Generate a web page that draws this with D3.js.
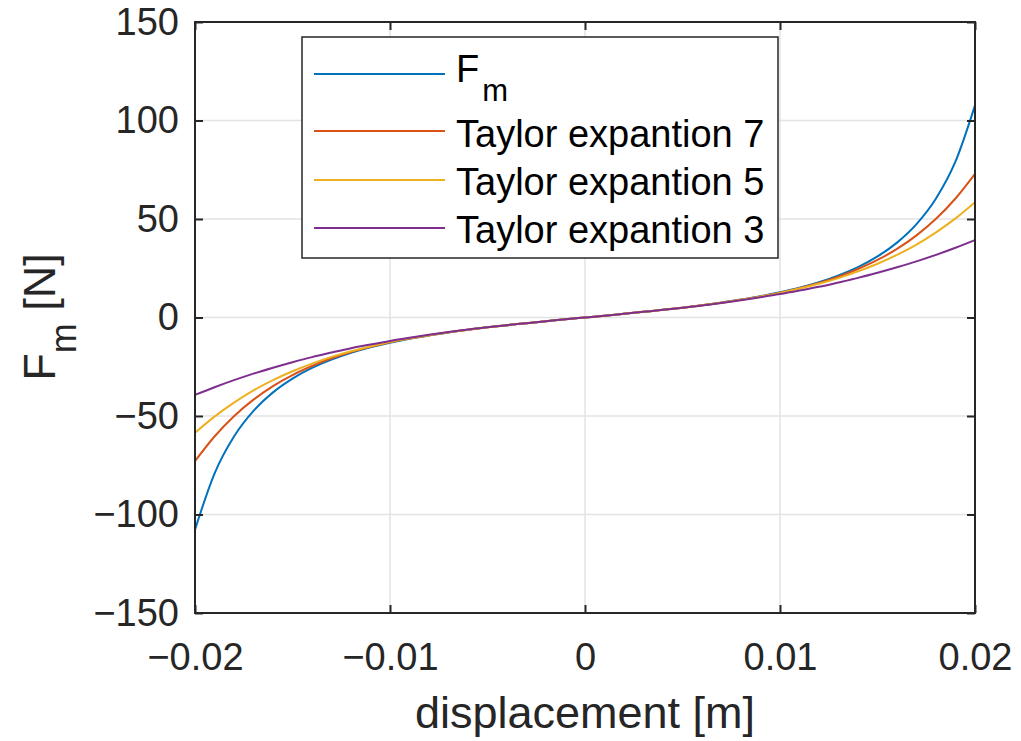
<!DOCTYPE html>
<html>
<head>
<meta charset="utf-8">
<script src="https://cdn.jsdelivr.net/npm/d3@7"></script>
<style>
  html, body { margin: 0; padding: 0; background: #ffffff; }
  svg { display: block; font-family: "Liberation Sans", Arial, Helvetica, sans-serif; }
</style>
</head>
<body>
<svg id="chart" width="1021" height="741"></svg>
<script>
// ---------------- data ----------------
const displacement = [
  -0.020, -0.019, -0.018, -0.017, -0.016, -0.015, -0.014, -0.013, -0.012, -0.011,
  -0.010, -0.009, -0.008, -0.007, -0.006, -0.005, -0.004, -0.003, -0.002, -0.001,
   0.000,
   0.001,  0.002,  0.003,  0.004,  0.005,  0.006,  0.007,  0.008,  0.009,  0.010,
   0.011,  0.012,  0.013,  0.014,  0.015,  0.016,  0.017,  0.018,  0.019,  0.020
];
const forceFm = [
  -107.7, -79.2, -60.4, -47.4, -38.0, -31.0, -25.6, -21.4, -17.9, -15.1,
  -12.8, -10.8, -9.1, -7.6, -6.2, -5.0, -3.9, -2.9, -1.9, -0.9,
  0,
  0.9, 1.9, 2.9, 3.9, 5.0, 6.2, 7.6, 9.1, 10.8, 12.8,
  15.1, 17.9, 21.4, 25.6, 31.0, 38.0, 47.4, 60.4, 79.2, 107.7
];
const taylor7 = [
  -72.9, -60.4, -50.1, -41.7, -34.8, -29.2, -24.6, -20.7, -17.5, -14.9,
  -12.6, -10.7, -9.0, -7.5, -6.2, -5.0, -3.9, -2.9, -1.9, -0.9,
  0,
  0.9, 1.9, 2.9, 3.9, 5.0, 6.2, 7.5, 9.0, 10.7, 12.6,
  14.9, 17.5, 20.7, 24.6, 29.2, 34.8, 41.7, 50.1, 60.4, 72.9
];
const taylor5 = [
  -58.5, -50.3, -43.2, -37.0, -31.8, -27.3, -23.4, -20.0, -17.1, -14.7,
  -12.5, -10.6, -9.0, -7.5, -6.2, -5.0, -3.9, -2.9, -1.9, -0.9,
  0,
  0.9, 1.9, 2.9, 3.9, 5.0, 6.2, 7.5, 9.0, 10.6, 12.5,
  14.7, 17.1, 20.0, 23.4, 27.3, 31.8, 37.0, 43.2, 50.3, 58.5
];
const taylor3 = [
  -39.3, -35.4, -31.8, -28.5, -25.5, -22.7, -20.1, -17.8, -15.6, -13.7,
  -11.9, -10.3, -8.8, -7.4, -6.1, -5.0, -3.9, -2.9, -1.9, -0.9,
  0,
  0.9, 1.9, 2.9, 3.9, 5.0, 6.1, 7.4, 8.8, 10.3, 11.9,
  13.7, 15.6, 17.8, 20.1, 22.7, 25.5, 28.5, 31.8, 35.4, 39.3
];
const seriesNames = ["F_m", "Taylor expantion 7", "Taylor expantion 5", "Taylor expantion 3"];
const seriesColors = ["#0072BD", "#D95319", "#EDB120", "#7E2F8E"];
const xTickValues = [-0.02, -0.01, 0, 0.01, 0.02];
const xTickLabels = ["\u22120.02", "\u22120.01", "0", "0.01", "0.02"];
const yTickValues = [-150, -100, -50, 0, 50, 100, 150];
const yTickLabels = ["\u2212150", "\u2212100", "\u221250", "0", "50", "100", "150"];

// ---------------- layout ----------------
const plotLeft = 195, plotRight = 975, plotTop = 22, plotBottom = 613;
const axisColor = "#262626";
const svg = d3.select("#chart");

const x = d3.scaleLinear().domain([-0.02, 0.02]).range([plotLeft, plotRight]);
const y = d3.scaleLinear().domain([-150, 150]).range([plotBottom, plotTop]);

// grid
const grid = svg.append("g");
grid.selectAll("line.gx").data(xTickValues).enter().append("line")
  .attr("x1", d => x(d)).attr("x2", d => x(d)).attr("y1", plotTop).attr("y2", plotBottom)
  .attr("stroke", "#e3e3e3").attr("stroke-width", 1.5);
grid.selectAll("line.gy").data(yTickValues).enter().append("line")
  .attr("y1", d => y(d)).attr("y2", d => y(d)).attr("x1", plotLeft).attr("x2", plotRight)
  .attr("stroke", "#e3e3e3").attr("stroke-width", 1.5);

// curves
const allSeries = [forceFm, taylor7, taylor5, taylor3];
const line = d3.line()
  .x((d, i) => x(displacement[i]))
  .y(d => y(d))
  .curve(d3.curveMonotoneX);
allSeries.forEach((s, i) => {
  svg.append("path").datum(s)
    .attr("d", line)
    .attr("fill", "none")
    .attr("stroke", seriesColors[i])
    .attr("stroke-width", 2);
});

// axes
function styleAxis(g) {
  g.select(".domain").remove();
  g.selectAll(".tick line").attr("stroke", axisColor).attr("stroke-width", 2);
  g.selectAll(".tick text").attr("fill", axisColor).attr("font-size", 38)
    .attr("font-family", "'Liberation Sans', Arial, Helvetica, sans-serif");
}
const xIdx = v => xTickValues.indexOf(v);
const yIdx = v => yTickValues.indexOf(v);

svg.append("g").attr("transform", `translate(0,${plotBottom})`)
  .call(d3.axisBottom(x).tickValues(xTickValues).tickFormat(d => xTickLabels[xIdx(d)])
    .tickSizeInner(-8).tickSizeOuter(0).tickPadding(30))
  .call(styleAxis);
svg.append("g").attr("transform", `translate(0,${plotTop})`)
  .call(d3.axisTop(x).tickValues(xTickValues).tickFormat("").tickSizeInner(-8).tickSizeOuter(0))
  .call(styleAxis);
svg.append("g").attr("transform", `translate(${plotLeft},0)`)
  .call(d3.axisLeft(y).tickValues(yTickValues).tickFormat(d => yTickLabels[yIdx(d)])
    .tickSizeInner(-8).tickSizeOuter(0).tickPadding(16))
  .call(styleAxis);
svg.append("g").attr("transform", `translate(${plotRight},0)`)
  .call(d3.axisRight(y).tickValues(yTickValues).tickFormat("").tickSizeInner(-8).tickSizeOuter(0))
  .call(styleAxis);

// box
svg.append("rect")
  .attr("x", plotLeft).attr("y", plotTop).attr("width", plotRight - plotLeft).attr("height", plotBottom - plotTop)
  .attr("fill", "none").attr("stroke", axisColor).attr("stroke-width", 2);

// axis labels
svg.append("text")
  .attr("x", (plotLeft + plotRight) / 2).attr("y", 728)
  .attr("text-anchor", "middle").attr("font-size", 45).attr("fill", axisColor)
  .text("displacement [m]");

const yl = svg.append("text")
  .attr("transform", "translate(55,317) rotate(-90)")
  .attr("text-anchor", "middle").attr("font-size", 45).attr("fill", axisColor);
yl.append("tspan").text("F");
yl.append("tspan").attr("font-size", 36).attr("dy", 21).text("m");
yl.append("tspan").attr("dy", -21).text(" [N]");

// legend
const lg = svg.append("g");
lg.append("rect")
  .attr("x", 302).attr("y", 37).attr("width", 476).attr("height", 221)
  .attr("fill", "#ffffff").attr("stroke", axisColor).attr("stroke-width", 1.5);
const rowLineY = [74, 131, 180, 228];
const rowTextY = [82, 147, 195, 243];
seriesNames.forEach((name, i) => {
  lg.append("line")
    .attr("x1", 314).attr("x2", 445).attr("y1", rowLineY[i]).attr("y2", rowLineY[i])
    .attr("stroke", seriesColors[i]).attr("stroke-width", 2);
  const t = lg.append("text").attr("x", 456).attr("y", rowTextY[i])
    .attr("font-size", 38).attr("fill", "#000000");
  if (name === "F_m") {
    t.append("tspan").text("F");
    t.append("tspan").attr("font-size", 31).attr("dx", 3).attr("dy", 19).text("m");
  } else {
    t.text(name);
  }
});
</script>
</body>
</html>
